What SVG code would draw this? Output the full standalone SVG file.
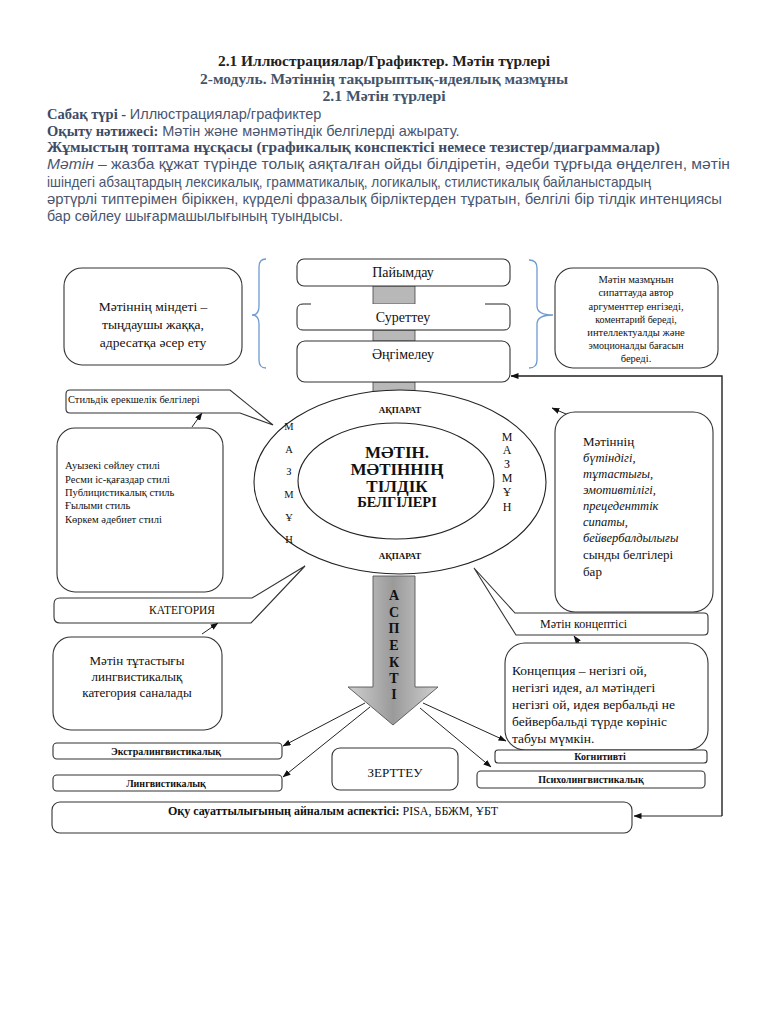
<svg xmlns="http://www.w3.org/2000/svg" width="768" height="1024" viewBox="0 0 768 1024">
<style>
  text { font-family: "Liberation Serif", "DejaVu Serif", serif; fill: #111; }
  .hd { font-weight: bold; font-size: 14px; text-anchor: middle; }
  .body { font-size: 14.5px; fill: #4a5670; font-family: "Liberation Sans", "DejaVu Sans", sans-serif; }
  .bb { font-weight: bold; fill: #3e4b66; font-family: "Liberation Serif", serif; }
  .box { fill: #fff; stroke: #333; stroke-width: 1.1; }
  .ln { fill: none; stroke: #222; stroke-width: 1; }
  .brace { fill: none; stroke: #6f9bd1; stroke-width: 1.3; }
  .gray { fill: #b8b8b8; stroke: #444; stroke-width: 0.8; }
  .c { text-anchor: middle; }
  .sm { font-size: 10px; font-weight: bold; }
</style>
<defs>
  <marker id="ar" viewBox="0 0 8 6" refX="7.5" refY="3" markerWidth="8" markerHeight="6" orient="auto" markerUnits="userSpaceOnUse">
    <path d="M0,0 L8,3 L0,6 Z" fill="#111"/>
  </marker>
  <linearGradient id="gg" x1="0" y1="0" x2="1" y2="0">
    <stop offset="0" stop-color="#d0d0d0"/>
    <stop offset="0.5" stop-color="#9a9a9a"/>
    <stop offset="1" stop-color="#d0d0d0"/>
  </linearGradient>
</defs>
<rect width="768" height="1024" fill="#fff"/>

<g id="header">
  <text class="hd" x="384" y="66" textLength="332" lengthAdjust="spacingAndGlyphs" style="fill:#222">2.1 Иллюстрациялар/Графиктер. Мәтін түрлері</text>
  <text class="hd" x="384" y="84" textLength="368" lengthAdjust="spacingAndGlyphs" style="fill:#44546a">2-модуль. Мәтіннің тақырыптық-идеялық мазмұны</text>
  <text class="hd" x="384" y="101" textLength="123" lengthAdjust="spacingAndGlyphs" style="fill:#44546a">2.1 Мәтін түрлері</text>
  <text class="body" x="47" y="119"><tspan class="bb">Сабақ түрі  - </tspan>Иллюстрациялар/графиктер</text>
  <text class="body" x="47" y="136"><tspan class="bb">Оқыту нәтижесі:</tspan> Мәтін және мәнмәтіндік белгілерді ажырату.</text>
  <text class="body bb" x="47" y="152" textLength="613" lengthAdjust="spacingAndGlyphs">Жұмыстың топтама нұсқасы (графикалық конспектісі немесе тезистер/диаграммалар)</text>
  <text class="body" x="47" y="169" textLength="683" lengthAdjust="spacingAndGlyphs"><tspan font-style="italic">Мәтін</tspan>  – жазба құжат түрінде толық аяқталған ойды білдіретін, әдеби тұрғыда өңделген, мәтін</text>
  <text class="body" x="47" y="187" textLength="604" lengthAdjust="spacingAndGlyphs">ішіндегі абзацтардың лексикалық, грамматикалық, логикалық, стилистикалық байланыстардың</text>
  <text class="body" x="47" y="204" textLength="675" lengthAdjust="spacingAndGlyphs">әртүрлі типтерімен біріккен, күрделі фразалық бірліктерден тұратын, белгілі бір тілдік интенциясы</text>
  <text class="body" x="47" y="221" textLength="296" lengthAdjust="spacingAndGlyphs">бар сөйлеу шығармашылығының туындысы.</text>
</g>

<g id="connectors">
  <rect class="gray" x="373" y="286" width="42" height="18"/>
  <rect class="gray" x="373" y="330" width="42" height="11"/>
  <rect class="gray" x="373" y="382" width="42" height="10"/>
  <path class="brace" d="M266,259 Q259,259 259,267 V306 Q259,315 252,315 Q259,315 259,324 V360 Q259,368 266,368"/>
  <path class="brace" d="M529,260 Q537,260 537,268 V306 Q537,315 553,315 Q537,315 537,324 V360 Q537,368 529,368"/>
  <polyline class="ln" points="722,816 722,376 511,376" marker-end="url(#ar)" style="stroke-width:1.4"/>
  <line class="ln" x1="722" y1="816" x2="634" y2="816" marker-end="url(#ar)"/>
  <line class="ln" x1="192" y1="427" x2="202" y2="413" marker-end="url(#ar)"/>
  <line class="ln" x1="573" y1="417" x2="552" y2="408" marker-end="url(#ar)"/>
  <line class="ln" x1="202" y1="634" x2="218" y2="623" marker-end="url(#ar)"/>
  <line class="ln" x1="584" y1="650" x2="574" y2="636" marker-end="url(#ar)"/>
  <line class="ln" x1="365" y1="703" x2="283" y2="746" marker-end="url(#ar)"/>
  <line class="ln" x1="370" y1="707" x2="283" y2="777" marker-end="url(#ar)"/>
  <line class="ln" x1="423" y1="703" x2="506" y2="741" marker-end="url(#ar)"/>
  <line class="ln" x1="420" y1="708" x2="491" y2="767" marker-end="url(#ar)"/>
</g>

<g id="n-paiymdau">
  <rect class="box" x="297" y="259" width="213" height="27" rx="7"/>
  <text class="c" x="403" y="277" font-size="14">Пайымдау</text>
</g>
<g id="n-surettey">
  <rect x="297" y="304" width="213" height="26" fill="#fff"/>
  <path class="ln" d="M311,304 H303 Q297,304 297,310 V324 Q297,330 303,330 H504 Q510,330 510,324 V310 Q510,304 504,304 H485"/>
  <text class="c" x="403" y="322" font-size="14">Суреттеу</text>
</g>
<g id="n-angimeley">
  <rect class="box" x="297" y="341" width="213" height="41" rx="8"/>
  <text class="c" x="403" y="359" font-size="14">Әңгімелеу</text>
</g>

<g id="n-mindeti">
  <rect class="box" x="64" y="268" width="178" height="97" rx="18"/>
  <text class="c" x="153" y="311" font-size="13.5">Мәтіннің міндеті –</text>
  <text class="c" x="153" y="329" font-size="13.5">тыңдаушы жаққа,</text>
  <text class="c" x="153" y="347" font-size="13.5">адресатқа әсер ету</text>
</g>

<g id="n-mazmun-box">
  <rect class="box" x="555" y="268" width="163" height="100" rx="18"/>
  <text class="c" x="636" y="283" font-size="10.5">Мәтін мазмұнын</text>
  <text class="c" x="636" y="296" font-size="10.5">сипаттауда автор</text>
  <text class="c" x="636" y="310" font-size="10.5">аргументтер енгізеді,</text>
  <text class="c" x="636" y="323" font-size="10">коментарий береді,</text>
  <text class="c" x="636" y="336" font-size="10.5">интеллектуалды және</text>
  <text class="c" x="636" y="349" font-size="10">эмоционалды бағасын</text>
  <text class="c" x="636" y="362" font-size="10.5">береді.</text>
</g>

<g id="n-ellipse">
  <ellipse cx="400" cy="482" rx="146" ry="92" fill="#fff" stroke="#222" stroke-width="1.1"/>
  <ellipse cx="396" cy="481" rx="98" ry="58" fill="#fff" stroke="#222" stroke-width="1.1"/>
  <text class="c" x="400" y="413" font-size="9" font-weight="bold">АҚПАРАТ</text>
  <text class="c" x="400" y="559" font-size="9" font-weight="bold">АҚПАРАТ</text>
  <g font-size="10.5" text-anchor="middle">
    <text x="289" y="430">М</text>
    <text x="289" y="453">А</text>
    <text x="289" y="475">З</text>
    <text x="289" y="498">М</text>
    <text x="289" y="521">Ұ</text>
    <text x="289" y="543">Н</text>
  </g>
  <g font-size="12" text-anchor="middle">
    <text x="507" y="441">М</text>
    <text x="507" y="454">А</text>
    <text x="507" y="468">З</text>
    <text x="507" y="482">М</text>
    <text x="507" y="496">Ұ</text>
    <text x="507" y="511">Н</text>
  </g>
  <text class="c" x="397" y="458" font-size="17" font-weight="bold">МӘТІН.</text>
  <text class="c" x="397" y="475" font-size="17" font-weight="bold">МӘТІННІҢ</text>
  <text class="c" x="397" y="492" font-size="17" font-weight="bold">ТІЛДІК</text>
  <text class="c" x="397" y="507" font-size="14.5" font-weight="bold">БЕЛГІЛЕРІ</text>
</g>

<g id="n-stildik">
  <path class="box" d="M70,390 H230 L273,425 L240,413 H70 Q66,413 66,409 V394 Q66,390 70,390 Z"/>
  <text x="68" y="403" font-size="10.5">Стильдік ерекшелік белгілері</text>
</g>

<g id="n-styles">
  <rect class="box" x="57" y="428" width="166" height="164" rx="18"/>
  <text x="65" y="469" font-size="10.5">Ауызекі сөйлеу стилі</text>
  <text x="65" y="483" font-size="10.5">Ресми іс-қағаздар стилі</text>
  <text x="65" y="496" font-size="10.5">Публицистикалық стиль</text>
  <text x="65" y="509" font-size="10.5">Ғылыми стиль</text>
  <text x="65" y="523" font-size="10.5">Көркем әдебиет стилі</text>
</g>

<g id="n-belgileri">
  <rect class="box" x="555" y="412" width="158" height="200" rx="20"/>
  <text x="583" y="446" font-size="13">Мәтіннің</text>
  <g font-size="12.5" font-style="italic">
    <text x="583" y="462">бүтіндігі,</text>
    <text x="583" y="478">тұтастығы,</text>
    <text x="583" y="494">эмотивтілігі,</text>
    <text x="583" y="510">прецеденттік</text>
    <text x="583" y="526">сипаты,</text>
    <text x="583" y="542">бейвербалдылығы</text>
  </g>
  <text x="583" y="559" font-size="13">сынды белгілері</text>
  <text x="583" y="576" font-size="13">бар</text>
</g>

<g id="n-kategoriya">
  <path class="box" d="M60,598 H252 L305,566 L251,623 H60 Q54,623 54,617 V604 Q54,598 60,598 Z"/>
  <text class="c" x="182" y="614" font-size="11.5">КАТЕГОРИЯ</text>
</g>

<g id="n-tutastygy">
  <rect class="box" x="53" y="637" width="169" height="93" rx="18"/>
  <text class="c" x="137" y="665" font-size="13">Мәтін тұтастығы</text>
  <text class="c" x="137" y="681" font-size="13">лингвистикалық</text>
  <text class="c" x="137" y="697" font-size="13">категория саналады</text>
</g>

<g id="n-aspekti">
  <path d="M373,576 H415 V687 H438 L393,725 L348,687 H373 Z" fill="url(#gg)" stroke="#555" stroke-width="0.9"/>
  <g font-size="14" font-weight="bold" text-anchor="middle">
    <text x="394" y="600">А</text>
    <text x="394" y="617">С</text>
    <text x="394" y="633">П</text>
    <text x="394" y="650">Е</text>
    <text x="394" y="667">К</text>
    <text x="394" y="683">Т</text>
    <text x="394" y="699">І</text>
  </g>
</g>

<g id="n-konceptisi">
  <path class="box" d="M515,613 H704 Q708,613 708,617 V631 Q708,635 704,635 H516 L474,568 Z"/>
  <text x="540" y="628" font-size="12">Мәтін концептісі</text>
</g>

<g id="n-koncepciya">
  <rect class="box" x="505" y="643" width="203" height="107" rx="20"/>
  <g font-size="13.5">
    <text x="512" y="675">Концепция – негізгі ой,</text>
    <text x="512" y="692">негізгі идея, ал мәтіндегі</text>
    <text x="512" y="709">негізгі ой, идея вербальді не</text>
    <text x="512" y="726">бейвербальді  түрде көрініс</text>
    <text x="512" y="743">табуы мүмкін.</text>
  </g>
</g>

<g id="n-kognitivti">
  <rect class="box" x="495" y="750" width="212" height="13" rx="3"/>
  <text class="c sm" x="600" y="760">Когнитивті</text>
</g>
<g id="n-psiho">
  <rect class="box" x="477" y="771" width="228" height="17" rx="4"/>
  <text class="c sm" x="591" y="783">Психолингвистикалық</text>
</g>
<g id="n-zerttey">
  <rect class="box" x="332" y="748" width="126" height="42" rx="8"/>
  <text class="c" x="395" y="777" font-size="13">ЗЕРТТЕУ</text>
</g>
<g id="n-ekstra">
  <rect class="box" x="53" y="743" width="229" height="16" rx="4"/>
  <text class="c sm" x="166" y="755">Экстралингвистикалық</text>
</g>
<g id="n-lingv">
  <rect class="box" x="53" y="775" width="229" height="16" rx="4"/>
  <text class="c sm" x="166" y="787">Лингвистикалық</text>
</g>
<g id="n-oqu">
  <rect class="box" x="52" y="802" width="580" height="31" rx="8"/>
  <text x="168" y="815" font-size="12"><tspan font-weight="bold">Оқу сауаттылығының айналым аспектісі:</tspan> PISA, ББЖМ, ҰБТ</text>
</g>
</svg>
